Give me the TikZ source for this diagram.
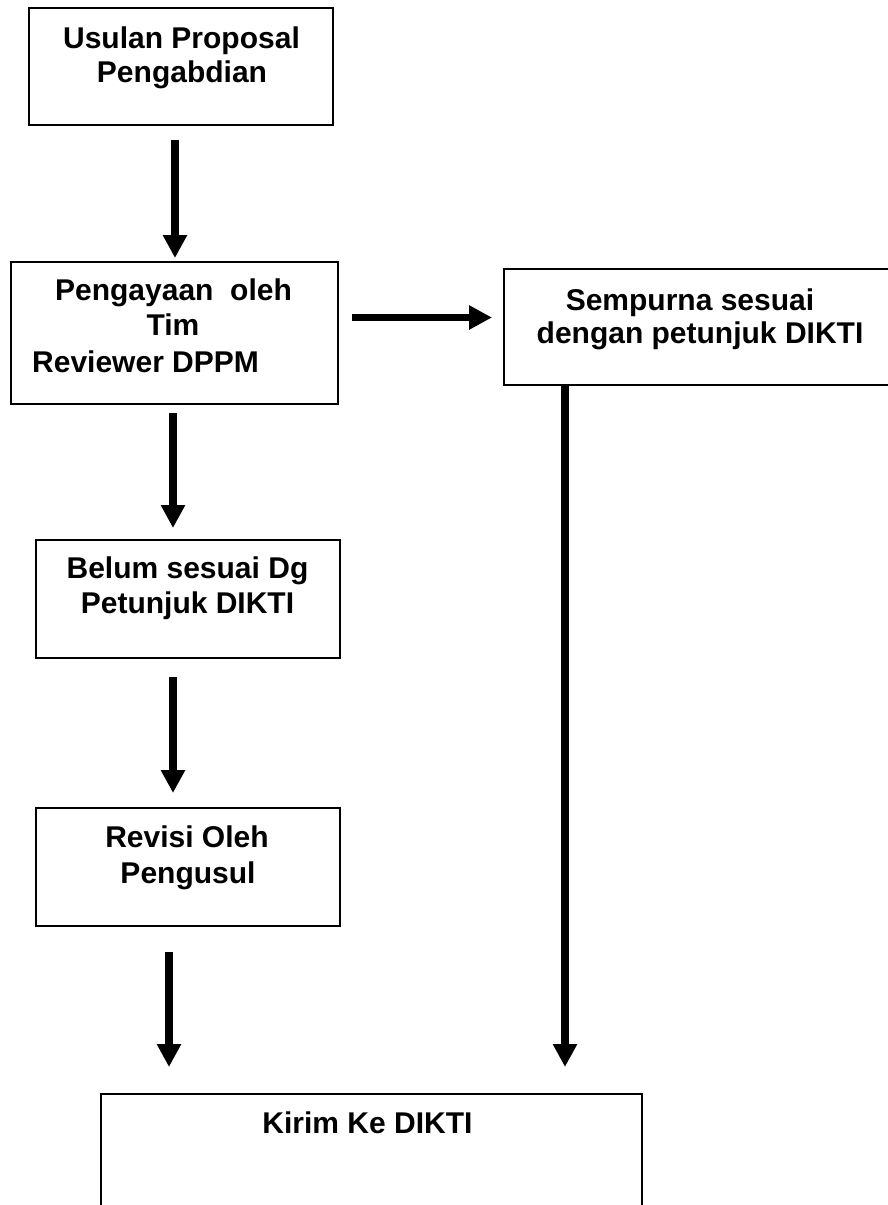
\documentclass[tikz,border=0pt]{standalone}
\usepackage{fontspec}
\setmainfont{Liberation Sans}
\usetikzlibrary{arrows.meta}
\tikzset{
  boxnode/.style={draw=black, line width=1.5pt, inner sep=0pt, anchor=north west},
  lbl/.style={inner sep=0pt, anchor=base, font=\bfseries\fontsize{30}{36}\selectfont},
  flow/.style={line width=7.5pt, -{Triangle[width=23pt,length=23pt]}},
}
\begin{document}
\begin{tikzpicture}[x=1pt,y=-1pt]
\useasboundingbox (0,0) rectangle (888,1205);
\clip (0,0) rectangle (888,1205);
% boxes
\node[boxnode, minimum width=304pt, minimum height=117pt] (usulan) at (28,7) {};
\node[boxnode, minimum width=327pt, minimum height=142pt] (pengayaan) at (10,261) {};
\node[boxnode, minimum width=390pt, minimum height=116pt] (sempurna) at (503,268) {};
\node[boxnode, minimum width=304pt, minimum height=118pt] (belum) at (35,539) {};
\node[boxnode, minimum width=304pt, minimum height=118pt] (revisi) at (35,807) {};
\node[boxnode, minimum width=541pt, minimum height=160pt] (kirim) at (100,1093) {};
% texts
\node[lbl] (t1a) at (181.5,48) {Usulan Proposal};
\node[lbl] (t1b) at (182,82) {Pengabdian};
\node[lbl] (t2a) at (173.5,300) {Pengayaan\ \ oleh};
\node[lbl] (t2b) at (173,335) {Tim};
\node[lbl, anchor=base west] (t2c) at (32,372) {Reviewer DPPM};
\node[lbl] (t3a) at (690,310) {Sempurna sesuai};
\node[lbl] (t3b) at (700,343) {dengan petunjuk DIKTI};
\node[lbl] (t4a) at (187.5,578) {Belum sesuai Dg};
\node[lbl] (t4b) at (187.5,613) {Petunjuk DIKTI};
\node[lbl] (t5a) at (187,847) {Revisi Oleh};
\node[lbl] (t5b) at (188,883) {Pengusul};
\node[lbl] (t6) at (367.5,1133) {Kirim Ke DIKTI};
% connector end points
\coordinate (a1s) at (175,140);  \coordinate (a1e) at (175,258);
\coordinate (a2s) at (352,317.5); \coordinate (a2e) at (492,317.5);
\coordinate (a3s) at (173,413);  \coordinate (a3e) at (173,528);
\coordinate (a4s) at (173,677);  \coordinate (a4e) at (173,793);
\coordinate (a5s) at (169,952);  \coordinate (a5e) at (169,1067);
\coordinate (a6s) at (565,384);  \coordinate (a6e) at (565,1067);
\draw[flow] (a1s) -- (a1e);
\draw[flow] (a2s) -- (a2e);
\draw[flow] (a3s) -- (a3e);
\draw[flow] (a4s) -- (a4e);
\draw[flow] (a5s) -- (a5e);
\draw[flow] (a6s) -- (a6e);
\end{tikzpicture}
\end{document}
